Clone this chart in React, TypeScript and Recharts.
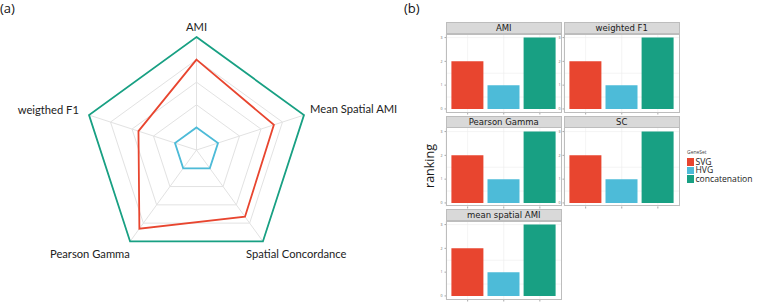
import {
  RadarChart,
  Radar,
  PolarGrid,
  PolarAngleAxis,
  PolarRadiusAxis,
  BarChart,
  Bar,
  XAxis,
  YAxis,
  CartesianGrid,
  Cell,
} from "recharts";

// radar (a)
const radarAxes = ["AMI", "Mean Spatial AMI", "Spatial Concordance", "Pearson Gamma", "weigthed F1"];
const radarSVG = [0.8, 0.72, 0.73, 0.86, 0.54];
const radarHVG = [0.2, 0.2, 0.2, 0.2, 0.2];
const radarConcat = [1, 1, 1, 1, 1];
const radarLevels = [0, 0.2, 0.4, 0.6, 0.8, 1];

// facets (b)
const facets = ["AMI", "weighted F1", "Pearson Gamma", "SC", "mean spatial AMI"];
const geneSets = ["SVG", "HVG", "concatenation"];
const svgRank = [2, 2, 2, 2, 2];
const hvgRank = [1, 1, 1, 1, 1];
const concatRank = [3, 3, 3, 3, 3];
const yTicks = [0, 1, 2, 3];

const RED = "#e8452f";
const BLUE = "#4dbbd8";
const GREEN = "#18a083";
const SET_COLORS = [RED, BLUE, GREEN];

const radarData = radarAxes.map((axis, i) => ({
  axis,
  svg: radarSVG[i],
  hvg: radarHVG[i],
  concat: radarConcat[i],
}));

const OUTER_R = 113;

const LABEL_POS: Record<string, { dx: number; dy: number; anchor: string }> = {
  AMI: { dx: 0, dy: 2, anchor: "middle" },
  "Mean Spatial AMI": { dx: -1.5, dy: 0.5, anchor: "start" },
  "Spatial Concordance": { dx: -21.5, dy: 10, anchor: "start" },
  "Pearson Gamma": { dx: 4.5, dy: 10, anchor: "end" },
  "weigthed F1": { dx: -2.5, dy: 1.5, anchor: "end" },
};

const RadarTick = (props: any) => {
  const { x, y, payload } = props;
  const p = LABEL_POS[payload.value] || { dx: 0, dy: 0, anchor: "middle" };
  return (
    <text
      x={x + p.dx}
      y={y + p.dy}
      textAnchor={p.anchor}
      fontSize={11.2}
      fontFamily="Lato, sans-serif"
      fill="#222"
    >
      {payload.value}
    </text>
  );
};

const RadarPanel = () => (
  <RadarChart
    width={400}
    height={303}
    cx={196.5}
    cy={150}
    outerRadius={OUTER_R}
    data={radarData}
    margin={{ top: 0, right: 0, bottom: 0, left: 0 }}
  >
    <PolarGrid
      gridType="polygon"
      stroke="#e2e2e2"
      strokeWidth={1}
      polarRadius={radarLevels.map((v) => v * OUTER_R)}
    />
    <PolarRadiusAxis domain={[0, 1]} ticks={radarLevels as any} tick={false} axisLine={false} />
    <PolarAngleAxis dataKey="axis" tick={<RadarTick />} tickLine={false} axisLine={false} />
    <Radar dataKey="concat" stroke={GREEN} strokeWidth={1.8} fill="none" fillOpacity={0} dot={false} isAnimationActive={false} />
    <Radar dataKey="svg" stroke={RED} strokeWidth={1.8} fill="none" fillOpacity={0} dot={false} isAnimationActive={false} />
    <Radar dataKey="hvg" stroke={BLUE} strokeWidth={1.8} fill="none" fillOpacity={0} dot={false} isAnimationActive={false} />
  </RadarChart>
);

const COL_X = [446, 564];
const ROW_Y = [22, 115.5, 209];
const PANEL_W = 115.5;
const STRIP_H = 12;
const PLOT_H = 78.5;
const Y_AX_W = 6;
const X_AX_H = 4;

const Facet = ({ index }: { index: number }) => {
  const data = geneSets.map((set, i) => ({
    set,
    value: [svgRank[index], hvgRank[index], concatRank[index]][i],
  }));
  const left = COL_X[index % 2];
  const top = ROW_Y[Math.floor(index / 2)];
  return (
    <div style={{ position: "absolute", left: left - Y_AX_W, top, width: PANEL_W + Y_AX_W }}>
      <div
        style={{
          position: "absolute",
          left: Y_AX_W,
          top: 0,
          width: PANEL_W,
          height: STRIP_H,
          boxSizing: "border-box",
          background: "#d9d9d9",
          border: "1px solid #bdbdbd",
          fontFamily: "'DejaVu Sans', sans-serif",
          fontSize: 8.5,
          color: "#1a1a1a",
          textAlign: "center",
          lineHeight: `${STRIP_H - 2}px`,
        }}
      >
        {facets[index]}
      </div>
      <div style={{ position: "absolute", left: 0, top: STRIP_H }}>
        <BarChart
          width={PANEL_W + Y_AX_W}
          height={PLOT_H + X_AX_H}
          data={data}
          margin={{ top: 0, right: 0, bottom: 0, left: 0 }}
          barCategoryGap="5%"
        >
          <CartesianGrid
            stroke="#ececec"
            strokeWidth={0.6}
            horizontalValues={[0, 0.5, 1, 1.5, 2, 2.5, 3]}
          />
          <XAxis
            dataKey="set"
            padding={{ left: 3.6, right: 3.6 }}
            height={X_AX_H}
            axisLine={false}
            tickSize={2}
            tickLine={{ stroke: "#555", strokeWidth: 0.5 }}
            tickFormatter={() => ""}
          />
          <YAxis
            domain={[-0.15, 3.15]}
            ticks={yTicks}
            width={Y_AX_W}
            axisLine={false}
            tickSize={1.5}
            tickLine={{ stroke: "#555", strokeWidth: 0.5 }}
            tick={{ fontSize: 3.5, fill: "#666" }}
            allowDataOverflow
          />
          <Bar dataKey="value" isAnimationActive={false}>
            {data.map((_, i) => (
              <Cell key={i} fill={SET_COLORS[i]} />
            ))}
          </Bar>
        </BarChart>
      </div>
      <div
        style={{
          position: "absolute",
          left: Y_AX_W,
          top: STRIP_H - 0.5,
          width: PANEL_W,
          height: PLOT_H + 0.5,
          boxSizing: "border-box",
          border: "1px solid #bdbdbd",
          pointerEvents: "none",
        }}
      />
    </div>
  );
};

const Legend = () => (
  <div style={{ position: "absolute", left: 687, top: 148, fontFamily: "'Open Sans', sans-serif" }}>
    <div style={{ fontSize: 5, color: "#444", lineHeight: "8px", height: 10 }}>GeneSet</div>
    {geneSets.map((s, i) => (
      <div key={s} style={{ position: "relative", height: 8.4 }}>
        <div style={{ position: "absolute", left: 0, top: 0.3, width: 6.5, height: 7.8, background: SET_COLORS[i] }} />
        <span
          style={{
            position: "absolute",
            left: 8.5,
            top: 0,
            fontSize: 8.6,
            color: "#1a1a1a",
            lineHeight: "8.4px",
            whiteSpace: "nowrap",
          }}
        >
          {s}
        </span>
      </div>
    ))}
  </div>
);

export default function App() {
  return (
    <div
      style={{
        position: "absolute",
        left: 0,
        top: 0,
        width: 780,
        height: 303,
        background: "#fff",
        overflow: "hidden",
        fontFamily: "'Open Sans', sans-serif",
      }}
    >
      <div style={{ position: "absolute", left: 0, top: 0 }}>
        <RadarPanel />
      </div>
      <div style={{ position: "absolute", left: 0, top: 1, fontSize: 13, lineHeight: "15px", color: "#111" }}>(a)</div>
      <div style={{ position: "absolute", left: 404, top: 1, fontSize: 13, lineHeight: "15px", color: "#111" }}>(b)</div>
      <div
        style={{
          position: "absolute",
          left: 429,
          top: 166,
          transform: "translate(-50%, -50%) rotate(-90deg)",
          fontSize: 12.5,
          color: "#1a1a1a",
          whiteSpace: "nowrap",
        }}
      >
        ranking
      </div>
      {facets.map((_, i) => (
        <Facet key={i} index={i} />
      ))}
      <Legend />
    </div>
  );
}
